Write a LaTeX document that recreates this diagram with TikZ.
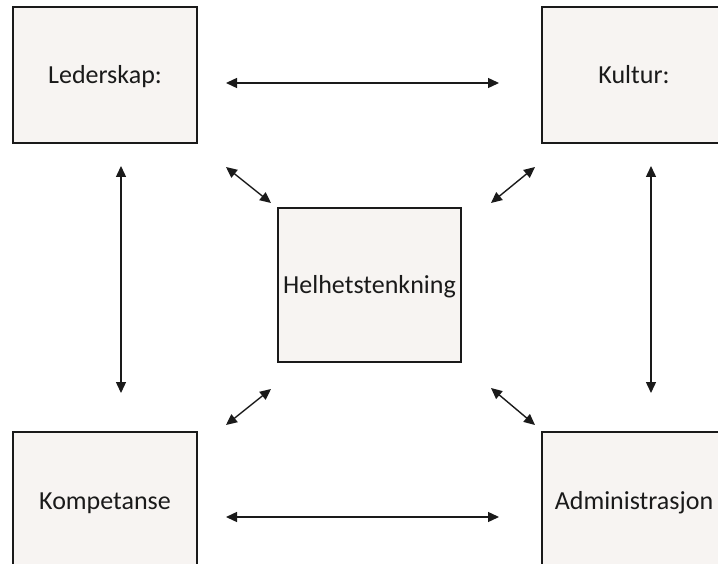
\documentclass[tikz,border=0pt]{standalone}
\usepackage{fontspec}
\setmainfont{Carlito}
\usetikzlibrary{arrows.meta}
\definecolor{boxfill}{HTML}{F7F4F2}
\definecolor{ink}{HTML}{1A1A1A}
\begin{document}
\begin{tikzpicture}[x=1pt,y=-1pt,
  card/.style={draw=ink,line width=1.6pt,fill=boxfill,minimum width=184pt,minimum height=136pt,
    inner sep=0pt,text height=18pt,text depth=0pt,font=\fontsize{26}{30}\selectfont,text=ink},
  link/.style={draw=ink,line width=1.4pt,{Triangle[length=11pt,width=10pt]}-{Triangle[length=11pt,width=10pt]}}]
\useasboundingbox (0,0) rectangle (718,564);
\clip (0,0) rectangle (718,564);
\fill[white] (0,0) rectangle (718,564);
% the five boxes
\node[card] (led) at (105,75) {Lederskap:};
\node[card] (kul) at (634,75) {Kultur:};
\node[card,minimum width=183pt,minimum height=154pt] (hel) at (369.5,285) {Helhetstenkning};
\node[card] (kom) at (105,500) {Kompetanse};
\node[card] (adm) at (634,500) {Administrasjon};
% arrow end points
\coordinate (a1) at (226,83);  \coordinate (a2) at (499,83);
\coordinate (b1) at (226,517); \coordinate (b2) at (499,517);
\coordinate (c1) at (121,166); \coordinate (c2) at (121,393);
\coordinate (d1) at (651,166); \coordinate (d2) at (651,393);
\coordinate (e1) at (226,167); \coordinate (e2) at (271,203);
\coordinate (f1) at (535,167); \coordinate (f2) at (491,203);
\coordinate (g1) at (271,389); \coordinate (g2) at (226,425);
\coordinate (h1) at (491,388); \coordinate (h2) at (535,425);
% connectors
\draw[link] (a1) -- (a2);
\draw[link] (b1) -- (b2);
\draw[link] (c1) -- (c2);
\draw[link] (d1) -- (d2);
\draw[link] (e1) -- (e2);
\draw[link] (f1) -- (f2);
\draw[link] (g1) -- (g2);
\draw[link] (h1) -- (h2);
\end{tikzpicture}
\end{document}
